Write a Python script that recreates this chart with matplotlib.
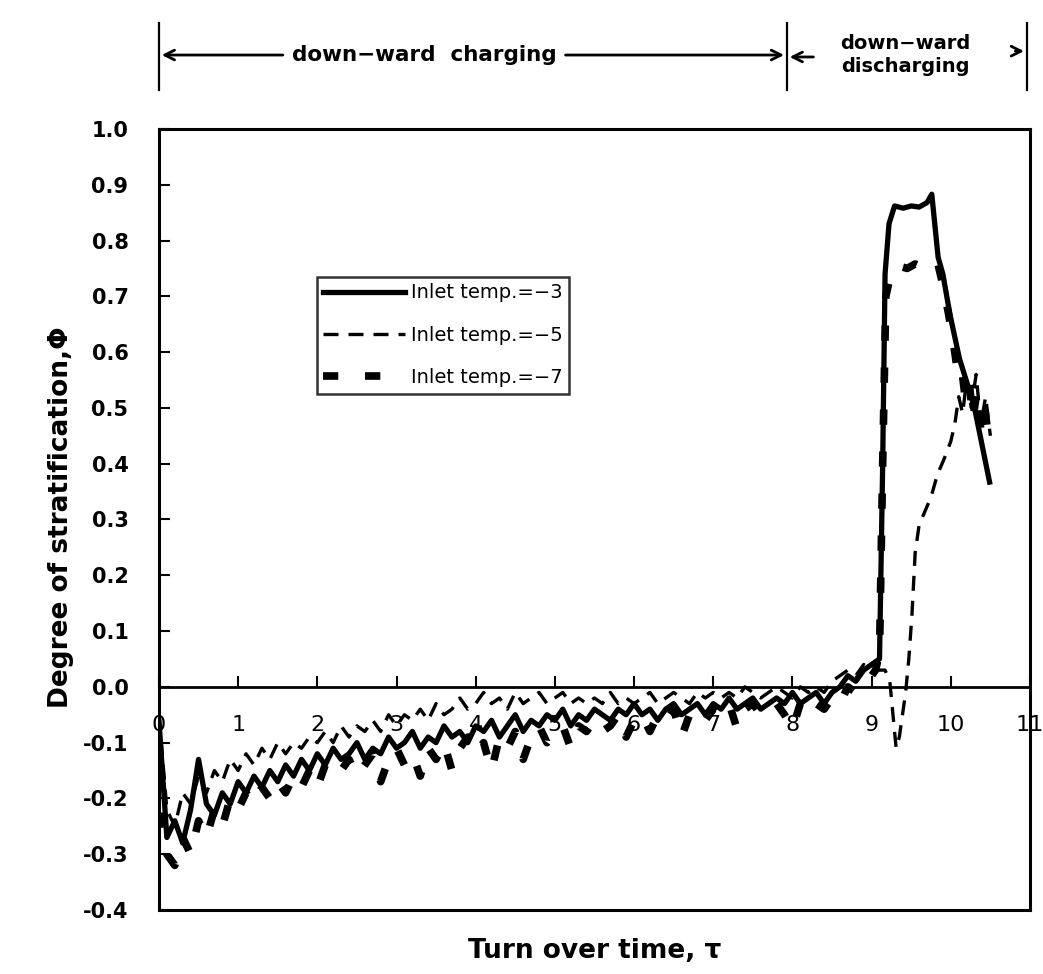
import numpy as np
import matplotlib
matplotlib.use('Agg')
import matplotlib.pyplot as plt
import matplotlib.transforms as mtransforms
from matplotlib.ticker import FormatStrFormatter

# ── Data ───────────────────────────────────────────────────────────────────────
# charging phase, sampled every 0.1 turn-over time
tau_charge = np.round(np.arange(0.0, 9.01, 0.1), 1)

phi_m3_charge = [
    -0.06, -0.27, -0.24, -0.28, -0.22, -0.13, -0.21, -0.23, -0.19, -0.21,
    -0.17, -0.19, -0.16, -0.18, -0.15, -0.17, -0.14, -0.16, -0.13, -0.15,
    -0.12, -0.14, -0.11, -0.13, -0.12, -0.10, -0.13, -0.11, -0.12, -0.09,
    -0.11, -0.10, -0.08, -0.11, -0.09, -0.10, -0.07, -0.09, -0.08, -0.10,
    -0.07, -0.08, -0.06, -0.09, -0.07, -0.05, -0.08, -0.06, -0.07, -0.05,
    -0.06, -0.04, -0.07, -0.05, -0.06, -0.04, -0.05, -0.06, -0.04, -0.05,
    -0.03, -0.05, -0.04, -0.06, -0.04, -0.03, -0.05, -0.04, -0.03, -0.05,
    -0.03, -0.04, -0.02, -0.04, -0.03, -0.02, -0.04, -0.03, -0.02, -0.03,
    -0.01, -0.03, -0.02, -0.01, -0.03, -0.01, 0.00, 0.02, 0.01, 0.03,
    0.04]

phi_m5_charge = [
    -0.05, -0.22, -0.25, -0.19, -0.21, -0.16, -0.19, -0.15, -0.17, -0.13,
    -0.15, -0.12, -0.14, -0.11, -0.13, -0.10, -0.12, -0.10, -0.11, -0.09,
    -0.10, -0.08, -0.10, -0.07, -0.09, -0.07, -0.08, -0.06, -0.08, -0.05,
    -0.07, -0.05, -0.06, -0.04, -0.06, -0.03, -0.05, -0.04, -0.02, -0.04,
    -0.03, -0.01, -0.03, -0.02, -0.04, -0.01, -0.03, -0.02, -0.01, -0.03,
    -0.02, -0.01, -0.03, -0.02, -0.03, -0.02, -0.03, -0.01, -0.03, -0.02,
    -0.03, -0.02, -0.01, -0.03, -0.02, -0.01, -0.02, -0.03, -0.01, -0.02,
    -0.01, -0.02, -0.01, -0.02, 0.00, -0.01, -0.02, -0.01, 0.00, -0.01,
    -0.02, 0.00, -0.01, 0.00, -0.01, 0.01, 0.02, 0.03, 0.02, 0.04,
    0.03]

phi_m7_charge = [
    -0.15, -0.30, -0.32, -0.27, -0.30, -0.24, -0.27, -0.22, -0.25, -0.20,
    -0.22, -0.19, -0.21, -0.18, -0.20, -0.17, -0.19, -0.16, -0.18, -0.15,
    -0.18, -0.14, -0.16, -0.15, -0.13, -0.16, -0.14, -0.12, -0.17, -0.13,
    -0.11, -0.14, -0.12, -0.16, -0.11, -0.13, -0.10, -0.15, -0.11, -0.09,
    -0.12, -0.10, -0.15, -0.09, -0.11, -0.08, -0.13, -0.09, -0.07, -0.10,
    -0.08, -0.07, -0.11, -0.07, -0.08, -0.06, -0.08, -0.07, -0.05, -0.09,
    -0.06, -0.05, -0.08, -0.05, -0.06, -0.04, -0.09, -0.05, -0.04, -0.06,
    -0.04, -0.05, -0.03, -0.075, -0.04, -0.03, -0.05, -0.04, -0.03, -0.05,
    -0.075, -0.03, -0.05, -0.03, -0.04, -0.02, -0.03, 0.00, -0.01, 0.01,
    0.02]

# discharging phase
tau_m3_dis = [9.1, 9.14, 9.17, 9.22, 9.29, 9.4, 9.5, 9.6, 9.7, 9.76,
              9.84, 9.9, 9.99, 10.11, 10.2, 10.3, 10.4, 10.49]
phi_m3_dis = [0.05, 0.40, 0.74, 0.83, 0.862, 0.858, 0.862, 0.860, 0.868, 0.883,
              0.77, 0.74, 0.667, 0.588, 0.547, 0.50, 0.43, 0.367]

tau_m5_dis = [9.1, 9.17, 9.23, 9.27, 9.31, 9.35, 9.39, 9.43, 9.47, 9.51,
              9.55, 9.6, 9.66, 9.75, 9.83, 9.92, 10.0, 10.05, 10.1, 10.15,
              10.2, 10.26, 10.32, 10.38, 10.44, 10.5]
phi_m5_dis = [0.03, 0.03, 0.01, -0.05, -0.11, -0.09, -0.05, -0.01, 0.05, 0.13,
              0.24, 0.29, 0.31, 0.34, 0.38, 0.41, 0.44, 0.47, 0.52, 0.49,
              0.55, 0.50, 0.56, 0.47, 0.52, 0.45]

tau_m7_dis = [9.05, 9.1, 9.14, 9.18, 9.25, 9.33, 9.45, 9.55, 9.65, 9.75,
              9.84, 9.9, 9.97, 10.03, 10.08, 10.13, 10.18, 10.23, 10.28, 10.33,
              10.38, 10.43, 10.48]
phi_m7_dis = [0.03, 0.06, 0.40, 0.70, 0.745, 0.755, 0.75, 0.758, 0.752, 0.765,
              0.757, 0.72, 0.67, 0.62, 0.57, 0.58, 0.52, 0.55, 0.48, 0.53,
              0.46, 0.50, 0.44]

labels = ['Inlet temp.=\u22123', 'Inlet temp.=\u22125', 'Inlet temp.=\u22127']
y_ticks = [-0.4, -0.3, -0.2, -0.1, 0.0, 0.1, 0.2, 0.3, 0.4, 0.5, 0.6, 0.7, 0.8, 0.9, 1.0]
x_ticks = [0, 1, 2, 3, 4, 5, 6, 7, 8, 9, 10, 11]

# phase bracket above the plot (data x positions)
phase_bounds = [0.0, 7.93, 10.96]

# ── Figure ─────────────────────────────────────────────────────────────────────
plt.rcParams['font.family'] = ['DejaVu Sans']
fig = plt.figure(figsize=(10.43, 9.74), dpi=100)
ax = fig.add_axes([0.1524, 0.0657, 0.8351, 0.8019])

ax.plot(np.concatenate([tau_charge, tau_m3_dis]), phi_m3_charge + phi_m3_dis,
        color='black', lw=3.8, ls='-', label=labels[0])
ax.plot(np.concatenate([tau_charge, tau_m5_dis]), phi_m5_charge + phi_m5_dis,
        color='black', lw=2.4, ls=(0, (4.5, 3)), label=labels[1])
ax.plot(np.concatenate([tau_charge, tau_m7_dis]), phi_m7_charge + phi_m7_dis,
        color='black', lw=5.5, ls=(0, (2, 3.5)), label=labels[2])

ax.set_xlim(0, 11)
ax.set_ylim(-0.4, 1.0)
ax.set_xticks([])
ax.set_yticks(y_ticks)
ax.yaxis.set_major_formatter(FormatStrFormatter('%.1f'))
ax.tick_params(axis='y', direction='in', length=8, width=1.5, pad=22, labelsize=15)
for lab in ax.get_yticklabels():
    lab.set_fontweight('bold')
for sp in ax.spines.values():
    sp.set_linewidth(2.2)

# zero line carrying the x ticks
zero_frac = (0 - (-0.4)) / 1.4
sec = ax.secondary_xaxis(zero_frac)
sec.set_xticks(x_ticks)
sec.tick_params(direction='in', length=8, width=1.5, pad=20, labelsize=16)
sec.spines['bottom'].set_linewidth(2.0)

ax.set_xlabel('Turn over time, \u03c4', fontsize=19, fontweight='bold', labelpad=20)
ax.set_ylabel('Degree of stratification,\u03a6', fontsize=19, fontweight='bold')
ax.yaxis.set_label_coords(-0.098, 0.503)

leg = ax.legend(loc='upper left', bbox_to_anchor=(0.181, 0.811), borderaxespad=0,
                fontsize=14, frameon=True, fancybox=False, edgecolor='black',
                handlelength=4.2, handletextpad=0.3, labelspacing=1.2, borderpad=0.35)
leg.get_frame().set_linewidth(1.8)

# ── Phase bracket ──────────────────────────────────────────────────────────────
trans = mtransforms.blended_transform_factory(ax.transData, fig.transFigure)
for xb in phase_bounds:
    ax.plot([xb, xb], [0.908, 0.976], transform=trans, color='black', lw=1.6, clip_on=False)

arrow = dict(arrowstyle='->,head_length=0.7,head_width=0.35', lw=2.0, color='black')
y_arr = 0.9435
ax.annotate('', xy=(phase_bounds[0], y_arr), xytext=(1.6, y_arr),
            xycoords=trans, textcoords=trans, arrowprops=arrow)
ax.annotate('', xy=(phase_bounds[1], y_arr), xytext=(5.1, y_arr),
            xycoords=trans, textcoords=trans, arrowprops=arrow)
ax.annotate('', xy=(phase_bounds[1], y_arr - 0.002), xytext=(8.3, y_arr - 0.002),
            xycoords=trans, textcoords=trans, arrowprops=arrow)
ax.annotate('', xy=(phase_bounds[2], y_arr + 0.004), xytext=(10.78, y_arr + 0.004),
            xycoords=trans, textcoords=trans, arrowprops=arrow)
ax.text(3.35, y_arr, 'down\u2212ward  charging', transform=trans, ha='center', va='center',
        fontsize=15.5, fontweight='bold')
ax.text(9.43, y_arr, 'down\u2212ward\ndischarging', transform=trans, ha='center', va='center',
        fontsize=14, fontweight='bold', linespacing=1.3)

fig.savefig('out.png', dpi=100)
